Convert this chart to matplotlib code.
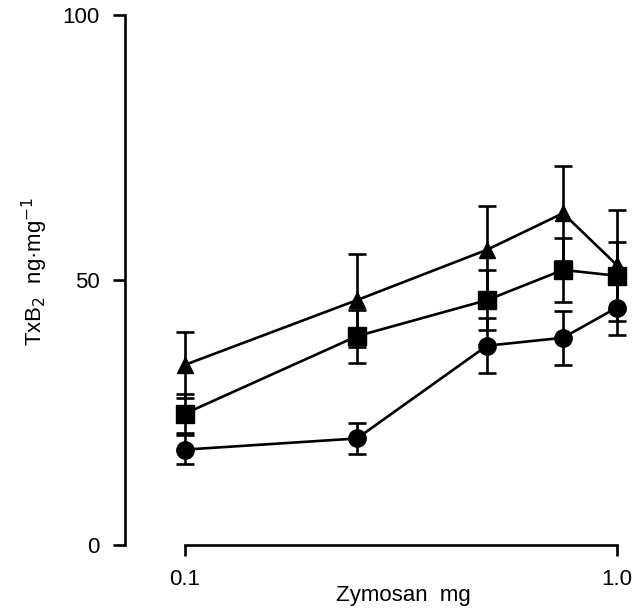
import matplotlib
matplotlib.use("Agg")
import matplotlib.pyplot as plt
from matplotlib.ticker import FixedLocator, NullLocator

plt.rcParams['font.family'] = ['Liberation Sans', 'DejaVu Sans']

dose = [0.1, 0.25, 0.5, 0.75, 1.0]
triangle = [34.0, 46.2, 55.7, 62.6, 52.8]
triangle_err = [6.2, 8.8, 8.3, 9.0, 10.5]
square = [24.8, 39.4, 46.2, 51.9, 50.8]
square_err = [3.7, 5.0, 5.7, 6.0, 6.4]
circle = [18.0, 20.1, 37.6, 39.1, 44.8]
circle_err = [2.8, 3.0, 5.2, 5.1, 5.2]

xticks = [0.1, 1.0]
xticklabels = ["0.1", "1.0"]
yticks = [0, 50, 100]

W, H = 644, 611
fig = plt.figure(figsize=(W / 100, H / 100), dpi=100)
ax = fig.add_axes([125 / W, 66 / H, 506.4 / W, 530 / H])
ax.set_xscale('log')
ax.set_xlim(0.0726, 1.08)
ax.set_ylim(0, 100)

common = dict(color='black', lw=1.9, elinewidth=1.9, capsize=6.5, capthick=1.9,
              clip_on=False)
ax.errorbar(dose, circle, yerr=circle_err, marker='o', ms=12.5, **common)
ax.errorbar(dose, square, yerr=square_err, marker='s', ms=12.5, **common)
ax.errorbar(dose, triangle, yerr=triangle_err, marker='^', ms=11.5, **common)

for s in ['top', 'right']:
    ax.spines[s].set_visible(False)
ax.spines['left'].set_linewidth(1.9)
ax.spines['bottom'].set_linewidth(1.9)
ax.spines['bottom'].set_bounds(0.1, 1.0)
ax.spines['left'].set_bounds(0, 100)

ax.xaxis.set_major_locator(FixedLocator(xticks))
ax.xaxis.set_minor_locator(NullLocator())
ax.set_xticklabels(xticklabels)
ax.set_yticks(yticks)
ax.tick_params(axis='y', direction='out', length=9, width=1.9, pad=9, labelsize=16)
ax.tick_params(axis='x', direction='out', length=8, width=1.9, pad=9, labelsize=16)

ax.set_xlabel("Zymosan  mg", fontsize=16)
ax.xaxis.set_label_coords((403 - 125) / 506.4, -0.075)
ax.set_ylabel("TxB$_2$  ng·mg$^{-1}$", fontsize=16)
ax.yaxis.set_label_coords((50 - 125) / 506.4, 0.517)

fig.savefig("out.png", dpi=100, facecolor='white')
